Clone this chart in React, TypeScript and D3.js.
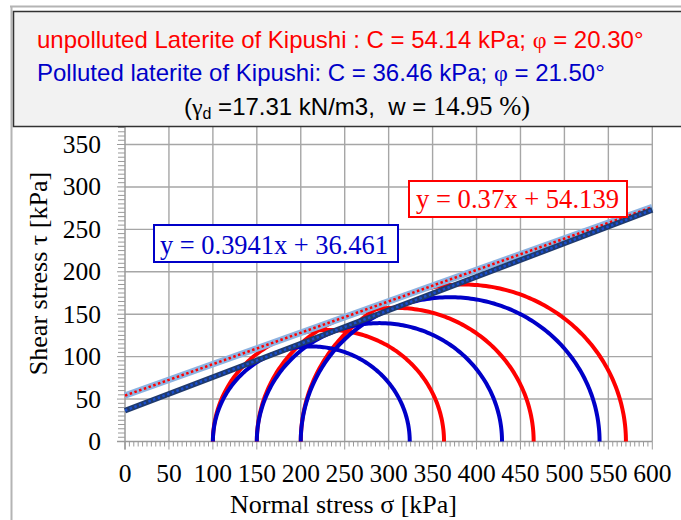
import React from 'react';
import * as d3 from 'd3';

// ---- data ----
const xTicks = [0, 50, 100, 150, 200, 250, 300, 350, 400, 450, 500, 550, 600];
const yTicks = [0, 50, 100, 150, 200, 250, 300, 350];
const sigma3 = [100, 150, 200];
const sigma1Unpolluted = [363, 465, 570];
const sigma1Polluted = [324, 429, 540];
const unpollutedSlope = 0.37;
const unpollutedIntercept = 54.139;
const pollutedSlope = 0.3941;
const pollutedIntercept = 36.461;
const titleLine1 = 'unpolluted Laterite of Kipushi : C = 54.14 kPa; ';
const titleLine1b = ' = 20.30°';
const titleLine2 = 'Polluted laterite of Kipushi: C = 36.46 kPa; ';
const titleLine2b = ' = 21.50°';
const eqUnpolluted = 'y = 0.37x + 54.139';
const eqPolluted = 'y = 0.3941x + 36.461';

const SERIF = '"Liberation Serif", "Times New Roman", serif';
const SANS = '"Liberation Sans", Arial, sans-serif';

export default function App() {
  const x = d3.scaleLinear().domain([0, 600]).range([125, 652.3]);
  const y = d3.scaleLinear().domain([0, 350]).range([441.5, 144.5]);
  const yTopPx = 126;
  const yMaxVal = y.invert(yTopPx);

  const angles = d3.range(0, 181).map((d) => (d * Math.PI) / 180);
  const semi = (s3: number, s1: number) => {
    const c = (s1 + s3) / 2;
    const r = (s1 - s3) / 2;
    return d3
      .line<number>()
      .x((a) => x(c - r * Math.cos(a)))
      .y((a) => y(r * Math.sin(a)))(angles) as string;
  };
  const fitLine = (m: number, b: number) =>
    d3
      .line<number>()
      .x((v) => x(v))
      .y((v) => y(m * v + b))([0, 600]) as string;

  const minorX = d3.range(0, 601, 5);
  const minorY = d3.range(0, yMaxVal, 5);
  const grid = '#a6a6a6';
  const tickC = '#9a9a9a';
  const blue = '#0000c8';
  const red = '#ff0000';

  return (
    <svg
      width={681}
      height={520}
      style={{ position: 'absolute', left: 0, top: 0, background: '#fff' }}
    >
      {/* outer frame */}
      <line x1={11.5} x2={11.5} y1={6} y2={520} stroke="#b4b4b4" strokeWidth={2} />
      <line x1={10} x2={681} y1={6.5} y2={6.5} stroke="#b4b4b4" strokeWidth={2} />

      {/* grid */}
      {xTicks.slice(1).map((t) => (
        <line key={'gx' + t} x1={x(t)} x2={x(t)} y1={y(0)} y2={yTopPx} stroke={grid} strokeWidth={1.4} />
      ))}
      {yTicks.slice(1).map((t) => (
        <line key={'gy' + t} x1={x(0)} x2={x(600)} y1={y(t)} y2={y(t)} stroke={grid} strokeWidth={1.4} />
      ))}

      {/* minor ticks */}
      {minorX.map((t) => (
        <line key={'mx' + t} x1={x(t)} x2={x(t)} y1={y(0)} y2={y(0) + (t % 50 === 0 ? 8 : 5)} stroke={tickC} strokeWidth={1} />
      ))}
      {minorY.map((t) => (
        <line key={'my' + t} x1={x(0) - (t % 50 === 0 ? 8 : 7)} x2={x(0)} y1={y(t)} y2={y(t)} stroke={tickC} strokeWidth={1} />
      ))}
      {/* axes */}
      <line x1={x(0)} x2={x(0)} y1={y(0) + 8} y2={yTopPx} stroke={tickC} strokeWidth={1.5} />
      <line x1={x(0) - 8} x2={x(600)} y1={y(0)} y2={y(0)} stroke={tickC} strokeWidth={1.5} />

      {/* Mohr circles */}
      {sigma3.map((s3, i) => (
        <path key={'r' + i} d={semi(s3, sigma1Unpolluted[i])} fill="none" stroke={red} strokeWidth={4} />
      ))}
      {sigma3.map((s3, i) => (
        <path key={'b' + i} d={semi(s3, sigma1Polluted[i])} fill="none" stroke={blue} strokeWidth={4} />
      ))}

      {/* envelopes */}
      <path d={fitLine(unpollutedSlope, unpollutedIntercept)} stroke="#8db3e2" strokeWidth={6.5} fill="none" />
      <path d={fitLine(unpollutedSlope, unpollutedIntercept)} stroke={red} strokeWidth={2.5} strokeDasharray="2.5,2.5" fill="none" />
      <path d={fitLine(pollutedSlope, pollutedIntercept)} stroke="#1f3a6e" strokeWidth={5.5} fill="none" />
      <path d={fitLine(pollutedSlope, pollutedIntercept)} stroke="#1a4fd0" strokeWidth={2.5} strokeDasharray="2.5,2.5" fill="none" />

      {/* tick labels */}
      {yTicks.map((t) => (
        <text key={'yl' + t} x={101} y={y(t) + 8.5} textAnchor="end" fontFamily={SERIF} fontSize={25.5} fill="#000">
          {t}
        </text>
      ))}
      {xTicks.map((t) => (
        <text key={'xl' + t} x={x(t)} y={482} textAnchor="middle" fontFamily={SERIF} fontSize={25.5} fill="#000">
          {t}
        </text>
      ))}

      {/* axis titles */}
      <text x={343.5} y={513} textAnchor="middle" fontFamily={SERIF} fontSize={26} fill="#000">
        Normal stress σ [kPa]
      </text>
      <text
        transform="translate(47,273.5) rotate(-90)"
        textAnchor="middle"
        fontFamily={SERIF}
        fontSize={26}
        fill="#000"
      >
        Shear stress τ [kPa]
      </text>

      {/* equation boxes */}
      <rect x={409} y={181} width={218} height={36} fill="#fff" stroke={red} strokeWidth={2} />
      <text x={416} y={208} fontFamily={SERIF} fontSize={26.5} fill={red} textLength={203} lengthAdjust="spacingAndGlyphs">
        {eqUnpolluted}
      </text>
      <rect x={154} y={225} width={244} height={37} fill="#fff" stroke={blue} strokeWidth={2} />
      <text x={160} y={254} fontFamily={SERIF} fontSize={26.5} fill={blue} textLength={228} lengthAdjust="spacingAndGlyphs">
        {eqPolluted}
      </text>

      {/* title box */}
      <rect x={13.5} y={11.5} width={700} height={115} fill="#f2f2f2" stroke="#333" strokeWidth={1.5} />
      <text x={37} y={48} fontFamily={SANS} fontSize={24} fill={red}>
        {titleLine1}
        <tspan fontFamily={SERIF}>φ</tspan>
        {titleLine1b}
      </text>
      <text x={37} y={81} fontFamily={SANS} fontSize={24} fill={blue}>
        {titleLine2}
        <tspan fontFamily={SERIF}>φ</tspan>
        {titleLine2b}
      </text>
      <text x={357} y={115} textAnchor="middle" fontFamily={SANS} fontSize={24} fill="#000">
        (<tspan fontFamily={SERIF}>γ</tspan>
        <tspan fontSize={16} dy={4}>d</tspan>
        <tspan dy={-4}>{' =17.31 kN/m3,\u00a0 w = '}</tspan>
        <tspan fontFamily={SERIF} fontSize={26.5}>14.95 %)</tspan>
      </text>
    </svg>
  );
}
